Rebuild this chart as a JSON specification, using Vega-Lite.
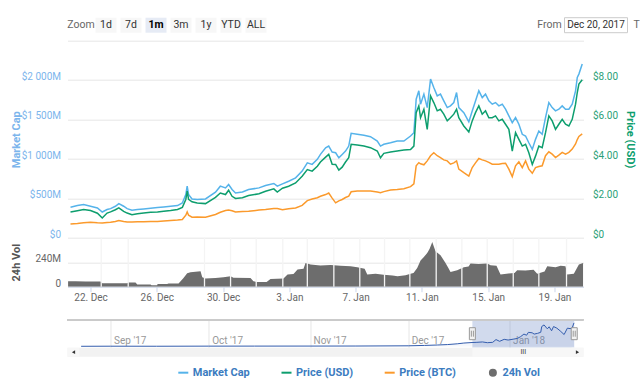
{
  "$schema": "https://vega.github.io/schema/vega-lite/v6.json",
  "padding": {"left": 10.5, "top": 16.7, "right": 0, "bottom": 0},
  "background": "white",
  "config": {
    "view": {"stroke": null},
    "font": "Roboto, sans-serif",
    "axis": {"labelFontSize": 10, "titleFontSize": 11, "gridColor": "#e6e6e6", "domain": false, "ticks": false}
  },
  "datasets": {
    "toolbar": [
      {"item": "Zoom", "kind": "label"},
      {"item": "1d", "kind": "button"},
      {"item": "7d", "kind": "button"},
      {"item": "1m", "kind": "selected"},
      {"item": "3m", "kind": "button"},
      {"item": "1y", "kind": "button"},
      {"item": "YTD", "kind": "button"},
      {"item": "ALL", "kind": "button"},
      {"item": "From", "kind": "label"},
      {"item": "Dec 20, 2017", "kind": "input"},
      {"item": "T", "kind": "label"}
    ],
    "series": [
      {"t": "2017-12-20T19:00", "market_cap": 386, "price_usd": 1.30, "price_btc": 0.0000695},
      {"t": "2017-12-21T05:00", "market_cap": 408, "price_usd": 1.37, "price_btc": 0.0000721},
      {"t": "2017-12-21T14:00", "market_cap": 420, "price_usd": 1.43, "price_btc": 0.0000757},
      {"t": "2017-12-22T00:00", "market_cap": 399, "price_usd": 1.38, "price_btc": 0.0000782},
      {"t": "2017-12-22T10:00", "market_cap": 377, "price_usd": 1.24, "price_btc": 0.0000757},
      {"t": "2017-12-22T17:00", "market_cap": 326, "price_usd": 1.00, "price_btc": 0.0000747},
      {"t": "2017-12-23T00:00", "market_cap": 357, "price_usd": 1.25, "price_btc": 0.0000767},
      {"t": "2017-12-23T05:00", "market_cap": 369, "price_usd": 1.31, "price_btc": 0.0000782},
      {"t": "2017-12-23T12:00", "market_cap": 399, "price_usd": 1.42, "price_btc": 0.0000818},
      {"t": "2017-12-23T17:00", "market_cap": 433, "price_usd": 1.51, "price_btc": 0.0000869},
      {"t": "2017-12-24T00:00", "market_cap": 399, "price_usd": 1.34, "price_btc": 0.0000818},
      {"t": "2017-12-24T05:00", "market_cap": 369, "price_usd": 1.25, "price_btc": 0.0000798},
      {"t": "2017-12-24T12:00", "market_cap": 348, "price_usd": 1.17, "price_btc": 0.0000798},
      {"t": "2017-12-24T20:00", "market_cap": 357, "price_usd": 1.21, "price_btc": 0.0000808},
      {"t": "2017-12-25T05:00", "market_cap": 364, "price_usd": 1.25, "price_btc": 0.0000808},
      {"t": "2017-12-25T15:00", "market_cap": 373, "price_usd": 1.29, "price_btc": 0.0000818},
      {"t": "2017-12-26T01:00", "market_cap": 382, "price_usd": 1.30, "price_btc": 0.0000818},
      {"t": "2017-12-26T10:00", "market_cap": 390, "price_usd": 1.34, "price_btc": 0.0000844},
      {"t": "2017-12-26T20:00", "market_cap": 399, "price_usd": 1.38, "price_btc": 0.0000869},
      {"t": "2017-12-27T06:00", "market_cap": 408, "price_usd": 1.43, "price_btc": 0.0000895},
      {"t": "2017-12-27T13:00", "market_cap": 441, "price_usd": 1.54, "price_btc": 0.0000920},
      {"t": "2017-12-27T18:00", "market_cap": 548, "price_usd": 1.94, "price_btc": 0.000114},
      {"t": "2017-12-27T20:00", "market_cap": 654, "price_usd": 2.36, "price_btc": 0.000131},
      {"t": "2017-12-27T22:00", "market_cap": 548, "price_usd": 1.95, "price_btc": 0.000114},
      {"t": "2017-12-28T03:00", "market_cap": 492, "price_usd": 1.82, "price_btc": 0.000104},
      {"t": "2017-12-28T10:30", "market_cap": 484, "price_usd": 1.76, "price_btc": 0.000105},
      {"t": "2017-12-28T22:30", "market_cap": 492, "price_usd": 1.73, "price_btc": 0.000104},
      {"t": "2017-12-29T13:00", "market_cap": 577, "price_usd": 2.05, "price_btc": 0.000118},
      {"t": "2017-12-29T20:00", "market_cap": 654, "price_usd": 2.27, "price_btc": 0.000129},
      {"t": "2017-12-30T03:30", "market_cap": 632, "price_usd": 2.19, "price_btc": 0.000138},
      {"t": "2017-12-30T08:00", "market_cap": 675, "price_usd": 2.41, "price_btc": 0.000140},
      {"t": "2017-12-30T13:00", "market_cap": 611, "price_usd": 2.10, "price_btc": 0.000137},
      {"t": "2017-12-30T18:00", "market_cap": 568, "price_usd": 1.99, "price_btc": 0.000131},
      {"t": "2017-12-31T04:00", "market_cap": 581, "price_usd": 2.03, "price_btc": 0.000133},
      {"t": "2017-12-31T13:00", "market_cap": 611, "price_usd": 2.14, "price_btc": 0.000134},
      {"t": "2018-01-01T04:00", "market_cap": 632, "price_usd": 2.23, "price_btc": 0.000140},
      {"t": "2018-01-01T13:30", "market_cap": 662, "price_usd": 2.36, "price_btc": 0.000143},
      {"t": "2018-01-02T01:30", "market_cap": 688, "price_usd": 2.48, "price_btc": 0.000148},
      {"t": "2018-01-02T06:30", "market_cap": 654, "price_usd": 2.32, "price_btc": 0.000148},
      {"t": "2018-01-02T14:00", "market_cap": 683, "price_usd": 2.51, "price_btc": 0.000142},
      {"t": "2018-01-02T23:00", "market_cap": 717, "price_usd": 2.61, "price_btc": 0.000147},
      {"t": "2018-01-03T09:00", "market_cap": 759, "price_usd": 2.78, "price_btc": 0.000151},
      {"t": "2018-01-03T18:30", "market_cap": 845, "price_usd": 3.12, "price_btc": 0.000164},
      {"t": "2018-01-04T02:00", "market_cap": 950, "price_usd": 3.46, "price_btc": 0.000188},
      {"t": "2018-01-04T09:00", "market_cap": 930, "price_usd": 3.38, "price_btc": 0.000196},
      {"t": "2018-01-04T16:30", "market_cap": 994, "price_usd": 3.63, "price_btc": 0.000203},
      {"t": "2018-01-04T21:00", "market_cap": 1057, "price_usd": 3.84, "price_btc": 0.000210},
      {"t": "2018-01-05T04:30", "market_cap": 1141, "price_usd": 4.09, "price_btc": 0.000219},
      {"t": "2018-01-05T09:00", "market_cap": 1163, "price_usd": 4.23, "price_btc": 0.000227},
      {"t": "2018-01-05T14:00", "market_cap": 1087, "price_usd": 3.73, "price_btc": 0.000201},
      {"t": "2018-01-05T19:00", "market_cap": 1078, "price_usd": 3.72, "price_btc": 0.000177},
      {"t": "2018-01-05T23:40", "market_cap": 1014, "price_usd": 3.43, "price_btc": 0.000187},
      {"t": "2018-01-06T04:30", "market_cap": 1057, "price_usd": 3.58, "price_btc": 0.000194},
      {"t": "2018-01-06T09:20", "market_cap": 1099, "price_usd": 3.84, "price_btc": 0.000204},
      {"t": "2018-01-06T14:00", "market_cap": 1163, "price_usd": 4.06, "price_btc": 0.000211},
      {"t": "2018-01-06T17:30", "market_cap": 1325, "price_usd": 4.74, "price_btc": 0.000233},
      {"t": "2018-01-07T02:20", "market_cap": 1312, "price_usd": 4.70, "price_btc": 0.000237},
      {"t": "2018-01-07T12:00", "market_cap": 1299, "price_usd": 4.65, "price_btc": 0.000237},
      {"t": "2018-01-07T21:30", "market_cap": 1282, "price_usd": 4.57, "price_btc": 0.000237},
      {"t": "2018-01-08T07:20", "market_cap": 1227, "price_usd": 4.40, "price_btc": 0.000232},
      {"t": "2018-01-08T12:00", "market_cap": 1163, "price_usd": 4.06, "price_btc": 0.000228},
      {"t": "2018-01-08T16:50", "market_cap": 1185, "price_usd": 4.28, "price_btc": 0.000234},
      {"t": "2018-01-09T02:30", "market_cap": 1205, "price_usd": 4.35, "price_btc": 0.000242},
      {"t": "2018-01-09T12:10", "market_cap": 1227, "price_usd": 4.40, "price_btc": 0.000245},
      {"t": "2018-01-09T21:50", "market_cap": 1227, "price_usd": 4.45, "price_btc": 0.000249},
      {"t": "2018-01-10T07:30", "market_cap": 1290, "price_usd": 4.48, "price_btc": 0.000259},
      {"t": "2018-01-10T12:20", "market_cap": 1332, "price_usd": 4.65, "price_btc": 0.000273},
      {"t": "2018-01-10T15:40", "market_cap": 1758, "price_usd": 6.35, "price_btc": 0.000365},
      {"t": "2018-01-10T19:30", "market_cap": 1864, "price_usd": 6.69, "price_btc": 0.000381},
      {"t": "2018-01-10T22:00", "market_cap": 1694, "price_usd": 6.09, "price_btc": 0.000375},
      {"t": "2018-01-11T02:50", "market_cap": 1822, "price_usd": 6.52, "price_btc": 0.000370},
      {"t": "2018-01-11T07:40", "market_cap": 1651, "price_usd": 5.50, "price_btc": 0.000390},
      {"t": "2018-01-11T12:30", "market_cap": 2013, "price_usd": 7.20, "price_btc": 0.000416},
      {"t": "2018-01-11T17:10", "market_cap": 1906, "price_usd": 6.86, "price_btc": 0.000431},
      {"t": "2018-01-11T22:10", "market_cap": 1800, "price_usd": 6.44, "price_btc": 0.000416},
      {"t": "2018-01-12T02:50", "market_cap": 1822, "price_usd": 6.52, "price_btc": 0.000407},
      {"t": "2018-01-12T07:40", "market_cap": 1736, "price_usd": 6.27, "price_btc": 0.000395},
      {"t": "2018-01-12T12:40", "market_cap": 1651, "price_usd": 5.93, "price_btc": 0.000390},
      {"t": "2018-01-12T17:20", "market_cap": 1673, "price_usd": 6.09, "price_btc": 0.000373},
      {"t": "2018-01-12T22:10", "market_cap": 1715, "price_usd": 6.27, "price_btc": 0.000380},
      {"t": "2018-01-13T02:10", "market_cap": 1842, "price_usd": 6.52, "price_btc": 0.000390},
      {"t": "2018-01-13T05:25", "market_cap": 1651, "price_usd": 6.09, "price_btc": 0.000348},
      {"t": "2018-01-13T12:40", "market_cap": 1587, "price_usd": 5.67, "price_btc": 0.000330},
      {"t": "2018-01-13T19:55", "market_cap": 1469, "price_usd": 5.37, "price_btc": 0.000313},
      {"t": "2018-01-14T00:50", "market_cap": 1609, "price_usd": 5.93, "price_btc": 0.000356},
      {"t": "2018-01-14T05:35", "market_cap": 1736, "price_usd": 6.35, "price_btc": 0.000380},
      {"t": "2018-01-14T10:25", "market_cap": 1864, "price_usd": 6.69, "price_btc": 0.000402},
      {"t": "2018-01-14T15:20", "market_cap": 1778, "price_usd": 6.27, "price_btc": 0.000395},
      {"t": "2018-01-14T20:05", "market_cap": 1822, "price_usd": 6.44, "price_btc": 0.000390},
      {"t": "2018-01-15T00:55", "market_cap": 1736, "price_usd": 6.09, "price_btc": 0.000382},
      {"t": "2018-01-15T05:50", "market_cap": 1694, "price_usd": 6.09, "price_btc": 0.000373},
      {"t": "2018-01-15T10:35", "market_cap": 1715, "price_usd": 6.18, "price_btc": 0.000373},
      {"t": "2018-01-15T15:25", "market_cap": 1673, "price_usd": 5.93, "price_btc": 0.000373},
      {"t": "2018-01-15T20:20", "market_cap": 1694, "price_usd": 6.01, "price_btc": 0.000377},
      {"t": "2018-01-16T01:05", "market_cap": 1631, "price_usd": 5.76, "price_btc": 0.000378},
      {"t": "2018-01-16T05:55", "market_cap": 1545, "price_usd": 5.50, "price_btc": 0.000348},
      {"t": "2018-01-16T10:50", "market_cap": 1460, "price_usd": 4.40, "price_btc": 0.000310},
      {"t": "2018-01-16T15:35", "market_cap": 1524, "price_usd": 5.33, "price_btc": 0.000365},
      {"t": "2018-01-16T20:25", "market_cap": 1440, "price_usd": 4.99, "price_btc": 0.000385},
      {"t": "2018-01-17T01:20", "market_cap": 1312, "price_usd": 4.65, "price_btc": 0.000356},
      {"t": "2018-01-17T06:05", "market_cap": 1290, "price_usd": 4.74, "price_btc": 0.000390},
      {"t": "2018-01-17T10:50", "market_cap": 1205, "price_usd": 4.31, "price_btc": 0.000348},
      {"t": "2018-01-17T15:50", "market_cap": 1121, "price_usd": 3.72, "price_btc": 0.000327},
      {"t": "2018-01-17T20:30", "market_cap": 1248, "price_usd": 4.14, "price_btc": 0.000356},
      {"t": "2018-01-18T01:20", "market_cap": 1354, "price_usd": 4.65, "price_btc": 0.000361},
      {"t": "2018-01-18T06:10", "market_cap": 1312, "price_usd": 4.57, "price_btc": 0.000365},
      {"t": "2018-01-18T11:00", "market_cap": 1524, "price_usd": 5.33, "price_btc": 0.000416},
      {"t": "2018-01-18T15:50", "market_cap": 1715, "price_usd": 6.18, "price_btc": 0.000436},
      {"t": "2018-01-18T20:40", "market_cap": 1651, "price_usd": 5.93, "price_btc": 0.000424},
      {"t": "2018-01-19T01:30", "market_cap": 1609, "price_usd": 5.50, "price_btc": 0.000407},
      {"t": "2018-01-19T06:20", "market_cap": 1631, "price_usd": 5.76, "price_btc": 0.000419},
      {"t": "2018-01-19T11:10", "market_cap": 1673, "price_usd": 6.01, "price_btc": 0.000433},
      {"t": "2018-01-19T16:00", "market_cap": 1631, "price_usd": 5.76, "price_btc": 0.000424},
      {"t": "2018-01-19T20:50", "market_cap": 1631, "price_usd": 5.67, "price_btc": 0.000433},
      {"t": "2018-01-20T01:40", "market_cap": 1694, "price_usd": 6.01, "price_btc": 0.000450},
      {"t": "2018-01-20T06:30", "market_cap": 1864, "price_usd": 6.78, "price_btc": 0.000476},
      {"t": "2018-01-20T09:00", "market_cap": 2033, "price_usd": 7.37, "price_btc": 0.000498},
      {"t": "2018-01-20T11:20", "market_cap": 2076, "price_usd": 7.80, "price_btc": 0.000514},
      {"t": "2018-01-20T16:10", "market_cap": 2204, "price_usd": 8.02, "price_btc": 0.000527}
    ],
    "volume": [
      {"t": "2017-12-20T15:30", "volume": 54}, {"t": "2017-12-21T02:20", "volume": 54},
      {"t": "2017-12-21T16:50", "volume": 51}, {"t": "2017-12-22T14:30", "volume": 51},
      {"t": "2017-12-22T17:00", "volume": 34}, {"t": "2017-12-24T05:10", "volume": 34},
      {"t": "2017-12-24T07:00", "volume": 41}, {"t": "2017-12-24T17:10", "volume": 41},
      {"t": "2017-12-24T19:40", "volume": 21}, {"t": "2017-12-25T15:00", "volume": 21},
      {"t": "2017-12-25T16:20", "volume": 15}, {"t": "2017-12-26T00:40", "volume": 15},
      {"t": "2017-12-26T01:00", "volume": 27}, {"t": "2017-12-26T15:00", "volume": 27},
      {"t": "2017-12-26T17:00", "volume": 31}, {"t": "2017-12-27T07:30", "volume": 31},
      {"t": "2017-12-27T14:40", "volume": 86}, {"t": "2017-12-27T20:00", "volume": 132},
      {"t": "2017-12-28T00:50", "volume": 142}, {"t": "2017-12-28T15:20", "volume": 152},
      {"t": "2017-12-28T17:50", "volume": 93}, {"t": "2017-12-28T22:35", "volume": 80},
      {"t": "2017-12-29T13:00", "volume": 84}, {"t": "2017-12-30T00:40", "volume": 92},
      {"t": "2017-12-30T10:50", "volume": 103}, {"t": "2017-12-30T15:00", "volume": 88},
      {"t": "2017-12-31T15:40", "volume": 86}, {"t": "2017-12-31T20:00", "volume": 54},
      {"t": "2018-01-01T00:25", "volume": 47}, {"t": "2018-01-01T15:00", "volume": 47},
      {"t": "2018-01-01T20:40", "volume": 76}, {"t": "2018-01-02T15:30", "volume": 80},
      {"t": "2018-01-02T21:20", "volume": 119}, {"t": "2018-01-03T06:00", "volume": 125},
      {"t": "2018-01-03T11:50", "volume": 168}, {"t": "2018-01-03T20:30", "volume": 175},
      {"t": "2018-01-03T23:25", "volume": 233}, {"t": "2018-01-04T06:40", "volume": 217},
      {"t": "2018-01-04T21:00", "volume": 208}, {"t": "2018-01-05T11:40", "volume": 212},
      {"t": "2018-01-06T02:00", "volume": 205}, {"t": "2018-01-06T16:40", "volume": 200},
      {"t": "2018-01-07T02:20", "volume": 190}, {"t": "2018-01-07T13:00", "volume": 176},
      {"t": "2018-01-07T16:50", "volume": 119}, {"t": "2018-01-08T04:50", "volume": 126},
      {"t": "2018-01-08T16:25", "volume": 118}, {"t": "2018-01-09T05:25", "volume": 110},
      {"t": "2018-01-09T12:40", "volume": 103}, {"t": "2018-01-10T00:15", "volume": 112},
      {"t": "2018-01-10T07:30", "volume": 126}, {"t": "2018-01-10T11:50", "volume": 135},
      {"t": "2018-01-10T17:10", "volume": 184}, {"t": "2018-01-10T22:00", "volume": 257},
      {"t": "2018-01-11T02:50", "volume": 290}, {"t": "2018-01-11T07:40", "volume": 331},
      {"t": "2018-01-11T11:00", "volume": 370}, {"t": "2018-01-11T15:00", "volume": 439},
      {"t": "2018-01-11T16:50", "volume": 400}, {"t": "2018-01-11T19:40", "volume": 348},
      {"t": "2018-01-12T02:55", "volume": 309}, {"t": "2018-01-12T10:10", "volume": 233},
      {"t": "2018-01-12T14:30", "volume": 180}, {"t": "2018-01-12T17:25", "volume": 145},
      {"t": "2018-01-13T03:05", "volume": 162}, {"t": "2018-01-13T12:40", "volume": 191},
      {"t": "2018-01-13T19:30", "volume": 198}, {"t": "2018-01-13T22:25", "volume": 227},
      {"t": "2018-01-14T10:00", "volume": 222}, {"t": "2018-01-14T22:35", "volume": 227},
      {"t": "2018-01-15T03:20", "volume": 211}, {"t": "2018-01-15T12:00", "volume": 205},
      {"t": "2018-01-15T17:50", "volume": 119}, {"t": "2018-01-16T05:25", "volume": 130},
      {"t": "2018-01-16T14:05", "volume": 135}, {"t": "2018-01-16T18:00", "volume": 162},
      {"t": "2018-01-17T06:00", "volume": 158}, {"t": "2018-01-17T17:40", "volume": 165},
      {"t": "2018-01-17T23:00", "volume": 126}, {"t": "2018-01-18T09:35", "volume": 150},
      {"t": "2018-01-18T13:30", "volume": 201}, {"t": "2018-01-19T01:30", "volume": 190},
      {"t": "2018-01-19T08:50", "volume": 205}, {"t": "2018-01-19T16:00", "volume": 200},
      {"t": "2018-01-19T18:25", "volume": 119}, {"t": "2018-01-20T04:00", "volume": 126},
      {"t": "2018-01-20T11:20", "volume": 217}, {"t": "2018-01-20T17:25", "volume": 233}
    ],
    "volume_gaps": [
      {"t": "2017-12-22T15:30"}, {"t": "2017-12-24T06:35"}, {"t": "2017-12-28T21:05"},
      {"t": "2017-12-30T10:50"}, {"t": "2018-01-01T00:00"}, {"t": "2018-01-02T14:30"},
      {"t": "2018-01-04T02:00"}, {"t": "2018-01-05T16:25"}, {"t": "2018-01-07T06:00"},
      {"t": "2018-01-08T17:50"}, {"t": "2018-01-10T06:30"}, {"t": "2018-01-11T20:40"},
      {"t": "2018-01-13T09:50"}, {"t": "2018-01-14T22:35"}, {"t": "2018-01-16T12:15"},
      {"t": "2018-01-18T01:20"}, {"t": "2018-01-19T17:25"}
    ],
    "navigator": [
      {"t": "2017-08-23T00:00", "market_cap": 30}, {"t": "2017-09-01T00:00", "market_cap": 38},
      {"t": "2017-09-15T00:00", "market_cap": 35}, {"t": "2017-10-01T00:00", "market_cap": 45},
      {"t": "2017-10-15T00:00", "market_cap": 48}, {"t": "2017-11-01T00:00", "market_cap": 50},
      {"t": "2017-11-15T00:00", "market_cap": 55}, {"t": "2017-12-01T00:00", "market_cap": 75},
      {"t": "2017-12-06T00:00", "market_cap": 110}, {"t": "2017-12-10T00:00", "market_cap": 150},
      {"t": "2017-12-13T00:00", "market_cap": 190}, {"t": "2017-12-16T00:00", "market_cap": 260},
      {"t": "2017-12-18T00:00", "market_cap": 330}, {"t": "2017-12-20T19:00", "market_cap": 386},
      {"t": "2017-12-22T00:00", "market_cap": 399}, {"t": "2017-12-23T17:00", "market_cap": 433},
      {"t": "2017-12-25T05:00", "market_cap": 364}, {"t": "2017-12-26T20:00", "market_cap": 399},
      {"t": "2017-12-27T20:00", "market_cap": 654}, {"t": "2017-12-28T22:30", "market_cap": 492},
      {"t": "2017-12-30T08:00", "market_cap": 675}, {"t": "2017-12-31T13:00", "market_cap": 611},
      {"t": "2018-01-02T01:30", "market_cap": 688}, {"t": "2018-01-03T09:00", "market_cap": 759},
      {"t": "2018-01-04T09:00", "market_cap": 930}, {"t": "2018-01-05T09:00", "market_cap": 1163},
      {"t": "2018-01-06T04:30", "market_cap": 1057}, {"t": "2018-01-06T17:30", "market_cap": 1325},
      {"t": "2018-01-07T21:30", "market_cap": 1282}, {"t": "2018-01-08T12:00", "market_cap": 1163},
      {"t": "2018-01-09T12:10", "market_cap": 1227}, {"t": "2018-01-10T12:20", "market_cap": 1332},
      {"t": "2018-01-10T19:30", "market_cap": 1864}, {"t": "2018-01-11T12:30", "market_cap": 2013},
      {"t": "2018-01-12T12:40", "market_cap": 1651}, {"t": "2018-01-13T02:10", "market_cap": 1842},
      {"t": "2018-01-13T19:55", "market_cap": 1469}, {"t": "2018-01-14T10:25", "market_cap": 1864},
      {"t": "2018-01-15T10:35", "market_cap": 1715}, {"t": "2018-01-16T10:50", "market_cap": 1460},
      {"t": "2018-01-17T15:50", "market_cap": 1121}, {"t": "2018-01-18T15:50", "market_cap": 1715},
      {"t": "2018-01-19T11:10", "market_cap": 1673}, {"t": "2018-01-20T01:40", "market_cap": 1694},
      {"t": "2018-01-20T16:10", "market_cap": 2204}
    ],
    "selection": [{"start": "2017-12-20T14:40", "end": "2018-01-20T18:00"}],
    "edges": [{"t": "2017-12-20T14:40"}, {"t": "2018-01-20T18:00"}],
    "scroll": [
      {"part": "thumb", "start": "2017-12-20T14:40", "end": "2018-01-20T18:00"},
      {"part": "button", "start": "2017-08-18T20:00", "end": "2017-08-22T12:00"},
      {"part": "button", "start": "2018-01-19T22:00", "end": "2018-01-23T14:00"}
    ],
    "arrows": [{"dir": "left", "t": "2017-08-20T16:00"}, {"dir": "right", "t": "2018-01-21T18:00"}],
    "grip": [{"t": "2018-01-05T04:20", "label": "III"}],
    "legend": [{"series": "Market Cap"}, {"series": "Price (USD)"}, {"series": "Price (BTC)"}, {"series": "24h Vol"}]
  },
  "bounds": "flush",
  "spacing": 0,
  "vconcat": [
    {
      "width": 577,
      "height": 15,
      "data": {"name": "toolbar"},
      "encoding": {
        "x": {"field": "item", "type": "nominal", "axis": null,
          "scale": {"domain": ["Zoom", "1d", "7d", "1m", "3m", "1y", "YTD", "ALL", "_8", "_9", "_10", "_11", "_12", "_13", "_14", "_15", "_16", "_17", "_18", "From", "_20", "Dec 20, 2017", "T"], "paddingInner": 0.16, "paddingOuter": 0.12}}
      },
      "layer": [
        {"transform": [{"filter": "datum.kind == 'button' || datum.kind == 'selected'"}],
         "mark": {"type": "rect"},
         "encoding": {"fill": {"field": "kind", "type": "nominal", "scale": {"domain": ["button", "selected"], "range": ["#f7f7f7", "#e6ebf5"]}, "legend": null}}},
        {"transform": [{"filter": "datum.kind == 'input'"}],
         "mark": {"type": "rect", "width": 63, "xOffset": -10, "fill": "#ffffff", "stroke": "#cccccc", "strokeWidth": 1}},
        {"transform": [{"filter": "datum.kind == 'button'"}],
         "mark": {"type": "text", "fontSize": 10.5, "color": "#333333"},
         "encoding": {"text": {"field": "item"}}},
        {"transform": [{"filter": "datum.kind == 'selected'"}],
         "mark": {"type": "text", "fontSize": 10.5, "fontWeight": "bold", "color": "#000000"},
         "encoding": {"text": {"field": "item"}}},
        {"transform": [{"filter": "datum.item == 'Zoom'"}],
         "mark": {"type": "text", "fontSize": 10.5, "color": "#666666"},
         "encoding": {"text": {"field": "item"}}},
        {"transform": [{"filter": "datum.item == 'From'"}],
         "mark": {"type": "text", "fontSize": 10.5, "color": "#666666", "dx": -6.5},
         "encoding": {"text": {"field": "item"}}},
        {"transform": [{"filter": "datum.kind == 'input'"}],
         "mark": {"type": "text", "fontSize": 10, "color": "#333333", "dx": -10},
         "encoding": {"text": {"field": "item"}}},
        {"transform": [{"filter": "datum.item == 'T'"}],
         "mark": {"type": "text", "fontSize": 10.5, "color": "#666666", "align": "left", "dx": 2.5},
         "encoding": {"text": {"field": "item"}}}
      ]
    },
    {"width": 516, "height": 7.8, "data": {"values": []}, "mark": "point"},
    {
      "width": 516,
      "height": 197,
      "data": {"name": "series"},
      "encoding": {
        "x": {"field": "t", "type": "temporal", "axis": null,
          "scale": {"domain": [{"year": 2017, "month": 12, "date": 20, "hours": 14, "minutes": 40}, {"year": 2018, "month": 1, "date": 20, "hours": 18}]}}
      },
      "layer": [
        {"mark": {"type": "line", "color": "#55b3ea", "strokeWidth": 1.5},
         "encoding": {"y": {"field": "market_cap", "type": "quantitative",
           "scale": {"domain": [0, 2500], "nice": false},
           "axis": {"values": [0, 500, 1000, 1500, 2000, 2500], "grid": true,
             "labelExpr": "datum.value >= 2500 ? '' : datum.value == 0 ? '$0' : '$' + replace(format(datum.value, ',d'), ',', ' ') + 'M'",
             "labelColor": "#7cb5ec", "labelPadding": 7, "labelOffset": -3.5,
             "title": "Market Cap", "titleColor": "#7cb5ec", "titleX": -51, "titleBaseline": "middle"}}}},
        {"mark": {"type": "line", "color": "#0d9e6e", "strokeWidth": 1.5},
         "encoding": {"y": {"field": "price_usd", "type": "quantitative",
           "scale": {"domain": [0, 10], "nice": false},
           "axis": {"orient": "right", "values": [0, 2, 4, 6, 8, 10], "grid": false,
             "labelExpr": "datum.value >= 10 ? '' : datum.value == 0 ? '$0' : '$' + format(datum.value, '.2f')",
             "labelColor": "#2a9f78", "labelPadding": 9, "labelOffset": -3.5,
             "title": "Price (USD)", "titleColor": "#0d9e6e", "titleX": 46, "titleBaseline": "middle"}}}},
        {"mark": {"type": "line", "color": "#fb9a2c", "strokeWidth": 1.5},
         "encoding": {"y": {"field": "price_btc", "type": "quantitative",
           "scale": {"domain": [0, 0.001], "nice": false}, "axis": null}}}
      ],
      "resolve": {"scale": {"y": "independent"}}
    },
    {
      "width": 516,
      "height": 49,
      "encoding": {
        "x": {"field": "t", "type": "temporal",
          "scale": {"domain": [{"year": 2017, "month": 12, "date": 20, "hours": 14, "minutes": 40}, {"year": 2018, "month": 1, "date": 20, "hours": 18}]},
          "axis": {"values": [
              {"year": 2017, "month": 12, "date": 22}, {"year": 2017, "month": 12, "date": 26},
              {"year": 2017, "month": 12, "date": 30}, {"year": 2018, "month": 1, "date": 3},
              {"year": 2018, "month": 1, "date": 7}, {"year": 2018, "month": 1, "date": 11},
              {"year": 2018, "month": 1, "date": 15}, {"year": 2018, "month": 1, "date": 19}],
            "format": "%-d. %b", "title": null, "grid": false, "labelColor": "#666666",
            "domain": true, "domainColor": "#ccd6eb", "ticks": true, "tickColor": "#ccd6eb", "tickSize": 5, "labelPadding": 1}}
      },
      "layer": [
        {"data": {"name": "volume"},
         "mark": {"type": "area", "color": "#6d6d6d", "opacity": 1, "clip": true},
         "encoding": {
           "y": {"field": "volume", "type": "quantitative",
             "scale": {"domain": [0, 480], "nice": false},
             "axis": {"values": [0, 240], "grid": true,
               "labelExpr": "datum.value == 0 ? '0' : datum.value + 'M'",
               "labelColor": "#666666", "labelPadding": 7, "labelOffset": -3.5,
               "title": "24h Vol", "titleColor": "#555555", "titleX": -51, "titleBaseline": "middle"}}}},
        {"data": {"name": "volume_gaps"},
         "mark": {"type": "rule", "color": "#f4f4f4", "strokeWidth": 1.3},
         "encoding": {}}
      ]
    },
    {"width": 516, "height": 32.5, "data": {"values": []}, "mark": "point"},
    {
      "width": 516,
      "height": 28,
      "layer": [
        {"data": {"name": "selection"},
         "mark": {"type": "rect", "fill": "#6685c2", "opacity": 0.3},
         "encoding": {
           "x": {"field": "start", "type": "temporal",
             "scale": {"domain": [{"year": 2017, "month": 8, "date": 18, "hours": 20}, {"year": 2018, "month": 1, "date": 23, "hours": 14}]},
             "axis": {"values": [{"year": 2017, "month": 9, "date": 1}, {"year": 2017, "month": 10, "date": 1}, {"year": 2017, "month": 11, "date": 1}, {"year": 2017, "month": 12, "date": 1}, {"year": 2018, "month": 1, "date": 1}],
               "format": "%b '%y", "title": null, "grid": true, "gridColor": "#e6e6e6",
               "labelAlign": "left", "labelBaseline": "middle", "labelPadding": -7, "labelOffset": 3,
               "labelColor": "#999999", "labelFontSize": 10}},
           "x2": {"field": "end"}}},
        {"data": {"name": "navigator"},
         "mark": {"type": "area", "fill": "#335cad", "fillOpacity": 0.05, "line": {"color": "#335cad", "strokeWidth": 1}},
         "encoding": {
           "x": {"field": "t", "type": "temporal"},
           "y": {"field": "market_cap", "type": "quantitative", "scale": {"domain": [-100, 2500], "nice": false, "zero": false}, "axis": null}}},
        {"data": {"name": "navigator"},
         "mark": {"type": "rule", "color": "#cccccc"},
         "encoding": {"y": {"datum": 2500}}},
        {"data": {"name": "edges"},
         "mark": {"type": "point", "shape": "M-0.5,-1H0.5V1H-0.5Z M-0.17,-0.5V0.5 M0.17,-0.5V0.5", "size": 144, "filled": false, "fill": "#f2f2f2", "stroke": "#999999", "strokeWidth": 1, "opacity": 1},
         "encoding": {"x": {"field": "t", "type": "temporal"}, "y": {"datum": 1200}}}
      ]
    },
    {
      "width": 516,
      "height": 9,
      "view": {"fill": "#f2f2f2", "stroke": null},
      "layer": [
        {"data": {"name": "scroll"},
         "mark": {"type": "rect"},
         "encoding": {
           "x": {"field": "start", "type": "temporal", "axis": null,
             "scale": {"domain": [{"year": 2017, "month": 8, "date": 18, "hours": 20}, {"year": 2018, "month": 1, "date": 23, "hours": 14}]}},
           "x2": {"field": "end"},
           "fill": {"field": "part", "type": "nominal", "scale": {"domain": ["thumb", "button"], "range": ["#cccccc", "#e6e6e6"]}, "legend": null}}},
        {"data": {"name": "arrows"},
         "mark": {"type": "point", "filled": true, "color": "#333333", "size": 14, "opacity": 1},
         "encoding": {
           "x": {"field": "t", "type": "temporal"},
           "shape": {"field": "dir", "type": "nominal", "scale": {"domain": ["left", "right"], "range": ["triangle-left", "triangle-right"]}, "legend": null}}},
        {"data": {"name": "grip"},
         "mark": {"type": "text", "fontSize": 7, "color": "#333333"},
         "encoding": {"x": {"field": "t", "type": "temporal"}, "text": {"field": "label"}}}
      ]
    },
    {"width": 516, "height": 10, "data": {"values": []}, "mark": "point"},
    {
      "width": 516,
      "height": 12,
      "data": {"name": "legend"},
      "encoding": {
        "x": {"field": "series", "type": "nominal", "axis": null,
          "scale": {"type": "point", "domain": ["Market Cap", "Price (USD)", "Price (BTC)", "24h Vol"], "padding": 2.059, "align": 0.561}}
      },
      "layer": [
        {"transform": [{"filter": "datum.series != '24h Vol'"}],
         "mark": {"type": "point", "shape": "M-1,0H1", "size": 100, "filled": false, "strokeWidth": 2, "opacity": 1},
         "encoding": {
           "stroke": {"field": "series", "type": "nominal", "scale": {"domain": ["Market Cap", "Price (USD)", "Price (BTC)"], "range": ["#55b3ea", "#0d9e6e", "#fb9a2c"]}, "legend": null}}},
        {"transform": [{"filter": "datum.series == '24h Vol'"}],
         "mark": {"type": "point", "shape": "circle", "size": 64, "filled": true, "color": "#6d6d6d", "opacity": 1}},
        {"mark": {"type": "text", "align": "left", "dx": 9.5, "fontSize": 11, "fontWeight": "bold", "color": "#3c7cc0"},
         "encoding": {"text": {"field": "series"}}}
      ]
    }
  ]
}
